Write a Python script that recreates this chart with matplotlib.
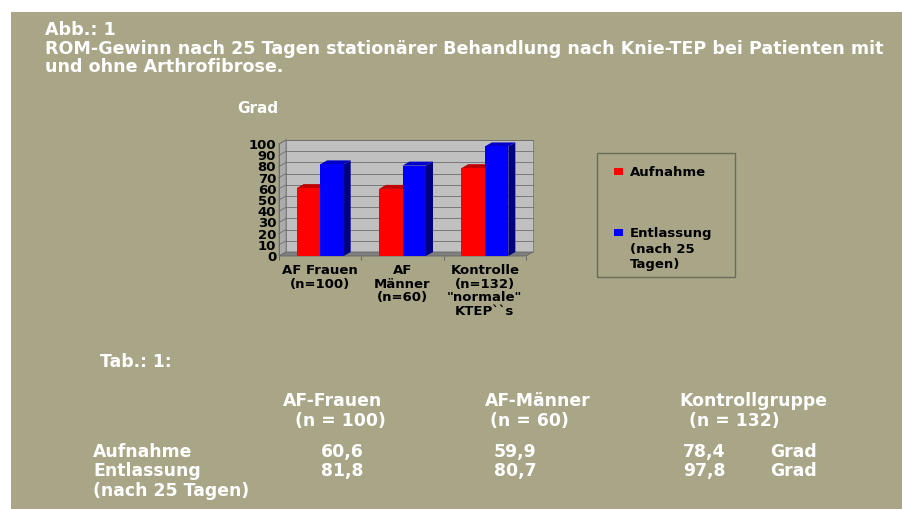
import matplotlib
matplotlib.use("Agg")
import matplotlib.pyplot as plt
from matplotlib.patches import Rectangle, Polygon
import numpy as np

plt.rcParams['font.family'] = ['DejaVu Sans']

# ---------------- data ----------------
categories = ["AF Frauen\n(n=100)", "AF\nMänner\n(n=60)",
              "Kontrolle\n(n=132)\n\"normale\"\nKTEP``s"]
aufnahme = [60.6, 59.9, 78.4]
entlassung = [81.8, 80.7, 97.8]
y_ticks = [0, 10, 20, 30, 40, 50, 60, 70, 80, 90, 100]
series_names = ["Aufnahme", "Entlassung\n(nach 25\nTagen)"]

title_lines = ["Abb.: 1",
               "ROM-Gewinn nach 25 Tagen stationärer Behandlung nach Knie-TEP bei Patienten mit",
               "und ohne Arthrofibrose."]
table_title = "Tab.: 1:"
table_groups = ["AF-Frauen", "AF-Männer", "Kontrollgruppe"]
table_n = ["(n = 100)", "(n = 60)", "(n = 132)"]
table_rows = ["Aufnahme", "Entlassung", "(nach 25 Tagen)"]
table_aufnahme = ["60,6", "59,9", "78,4"]
table_entlassung = ["81,8", "80,7", "97,8"]
unit = "Grad"

# ---------------- figure ----------------
W, H = 902, 509
fig = plt.figure(figsize=(W / 100, H / 100), dpi=100, facecolor='white')

BG = '#A9A688'
ov = fig.add_axes([0, 0, 1, 1])
ov.set_xlim(0, W)
ov.set_ylim(H, 0)
ov.axis('off')
ov.set_zorder(0)
ov.add_patch(Rectangle((11, 12), W - 11, H - 12, facecolor=BG, edgecolor='none'))

white = dict(color='white', fontweight='bold')
black = dict(color='black', fontweight='bold')

# title
for txt, yb in zip(title_lines, [35, 54, 72]):
    ov.text(45, yb, txt, fontsize=12.6, va='baseline', ha='left', **white)

ov.text(237, 113, unit, fontsize=11, va='baseline', ha='left', **white)

# ---------------- 3D-like bar chart ----------------
x0, x1 = 279, 526
yb0, yt0 = 256, 144
ax = fig.add_axes([x0 / W, 1 - yb0 / H, (x1 - x0) / W, (yb0 - yt0) / H])
ax.set_zorder(1)
ax.patch.set_visible(False)
ax.set_xlim(0, 3)
ax.set_ylim(0, 100)
for s in ax.spines.values():
    s.set_visible(False)

px_x = (x1 - x0) / 3.0
px_y = (yb0 - yt0) / 100.0
DX = 7 / px_x
DY = 4 / px_y
n = len(categories)

# walls
ax.add_patch(Polygon([(DX, DY), (n + DX, DY), (n + DX, 100 + DY), (DX, 100 + DY)],
                     closed=True, facecolor='#C0C0C0', edgecolor='#7A7A7A', lw=0.6,
                     clip_on=False, zorder=1))
ax.add_patch(Polygon([(0, 0), (DX, DY), (DX, 100 + DY), (0, 100)],
                     closed=True, facecolor='#ABABAB', edgecolor='#7A7A7A', lw=0.6,
                     clip_on=False, zorder=1))
ax.add_patch(Polygon([(0, 0), (n, 0), (n + DX, DY), (DX, DY)],
                     closed=True, facecolor='#7F7F7F', edgecolor='#666666', lw=0.6,
                     clip_on=False, zorder=1))
for t in y_ticks[1:]:
    ax.plot([DX, n + DX], [t + DY, t + DY], color='#6E6E6E', lw=0.6, clip_on=False, zorder=2)
    ax.plot([0, DX], [t, t + DY], color='#6E6E6E', lw=0.6, clip_on=False, zorder=2)
ax.plot([0, 0], [0, 100], color='#6E6E6E', lw=0.7, clip_on=False, zorder=2)

xc = np.arange(n) + 0.5
bw = 23.5 / px_x


def bar3d(xs, hs, front, top, side, z):
    ax.bar(xs, hs, width=bw, color=front, edgecolor='none', zorder=z + 0.2)
    for xv, hv in zip(xs, hs):
        l, r = xv - bw / 2, xv + bw / 2
        ax.add_patch(Polygon([(r, 0), (r + DX, DY), (r + DX, hv + DY), (r, hv)],
                             closed=True, facecolor=side, edgecolor='none',
                             clip_on=False, zorder=z))
        ax.add_patch(Polygon([(l, hv), (r, hv), (r + DX, hv + DY), (l + DX, hv + DY)],
                             closed=True, facecolor=top, edgecolor='none',
                             clip_on=False, zorder=z))


bar3d(xc - bw / 2, aufnahme, '#FF0000', '#C00000', '#800000', 3)
bar3d(xc + bw / 2, entlassung, '#0000FF', '#0000C8', '#000080', 4)

ax.set_yticks(y_ticks)
ax.set_yticklabels([str(v) for v in y_ticks], fontsize=9.5, fontweight='bold')
ax.tick_params(axis='y', length=0, pad=2)
ax.set_xticks(xc)
ax.set_xticklabels(categories, fontsize=9.5, fontweight='bold', linespacing=1.05)
ax.tick_params(axis='x', which='major', length=0, pad=6)
ax.set_xticks(np.arange(n + 1), minor=True)
ax.tick_params(axis='x', which='minor', length=3, color='#666666', width=0.7)

# ---------------- legend ----------------
ov.add_patch(Rectangle((597, 153), 138, 124, facecolor='none', edgecolor='#6B6B5A', lw=1))
ov.add_patch(Rectangle((614, 168), 9, 7, facecolor='#FF0000', edgecolor='none'))
ov.add_patch(Rectangle((614, 229), 9, 7, facecolor='#0000FF', edgecolor='none'))
ov.text(630, 176, series_names[0], fontsize=9.5, va='baseline', ha='left', **black)
for line, yb in zip(series_names[1].split("\n"), [237, 252.5, 268]):
    ov.text(630, yb, line, fontsize=9.5, va='baseline', ha='left', **black)

# ---------------- table ----------------
TFS = 12.4
ov.text(100, 367, table_title, fontsize=TFS, va='baseline', ha='left', **white)
for g, nn, xg, xn in zip(table_groups, table_n, [283, 485, 679], [295, 490, 689]):
    ov.text(xg, 406, g, fontsize=TFS, va='baseline', ha='left', **white)
    ov.text(xn, 426, nn, fontsize=TFS, va='baseline', ha='left', **white)
for r, yb in zip(table_rows, [457, 476, 496]):
    ov.text(93, yb, r, fontsize=TFS, va='baseline', ha='left', **white)
for a, e, xv in zip(table_aufnahme, table_entlassung, [321, 494, 683]):
    ov.text(xv, 457, a, fontsize=TFS, va='baseline', ha='left', **white)
    ov.text(xv, 476, e, fontsize=TFS, va='baseline', ha='left', **white)
ov.text(770, 457, unit, fontsize=TFS, va='baseline', ha='left', **white)
ov.text(770, 476, unit, fontsize=TFS, va='baseline', ha='left', **white)

fig.savefig('out.png', dpi=100, facecolor='white')
